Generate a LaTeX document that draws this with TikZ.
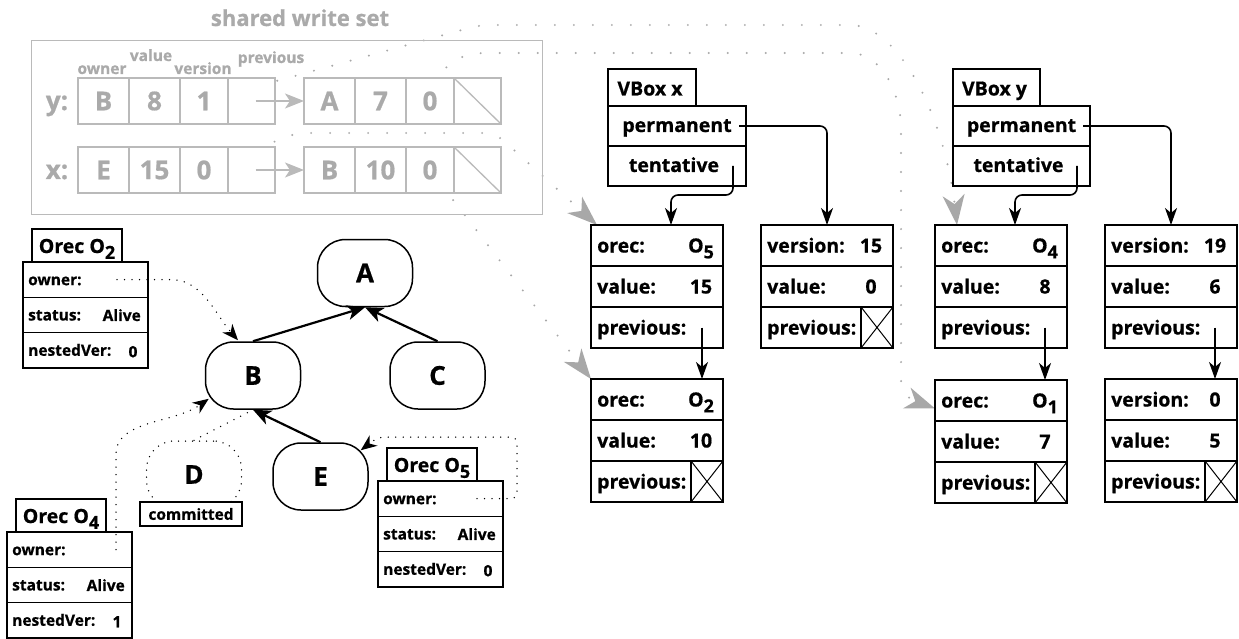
\documentclass[tikz,border=0pt]{standalone}
\usepackage{fontspec}
\setmainfont{Open Sans}[BoldFeatures={FakeBold=0.7}]
\usepackage{graphicx}
\usetikzlibrary{arrows.meta,calc}
\pgfdeclarelayer{back}
\pgfsetlayers{back,main}

\definecolor{wstext}{RGB}{170,170,170}
\definecolor{wsline}{RGB}{186,186,186}
\definecolor{wsdot}{RGB}{168,168,168}

\newcommand\fsz[1]{\fontsize{#1}{#1}\selectfont\bfseries}
\newcommand\lowsub[1]{\raisebox{-0.3em}{\scalebox{0.92}{#1}}}

\tikzset{
  % shared write set
  wscell/.style={draw=wsline, fill=white, line width=1.3pt, minimum height=46pt,
    inner sep=0pt, outer sep=0pt, text=wstext, font=\fsz{26}, anchor=north west},
  wshdr/.style={text=wstext, font=\fsz{15.5}, inner sep=0pt, anchor=base},
  wsarrow/.style={draw=wsline, line width=1.3pt, -{Stealth[length=19pt,width=15pt,inset=5pt]}},
  wsdots/.style={draw=wsdot, line width=2.2pt, line cap=round, dash pattern=on 0pt off 19pt,
    rounded corners=10pt, -{Stealth[length=30pt,width=22pt,inset=9pt]}},
  % version lists
  datarow/.style={draw, line width=1.5pt, minimum width=132pt, minimum height=41pt,
    inner sep=0pt, outer sep=0pt, anchor=north west},
  lbl/.style={font=\fsz{19.5}, inner sep=0pt, anchor=base west},
  val/.style={font=\fsz{19.5}, inner sep=0pt, anchor=base},
  nilbox/.style={draw, line width=1.5pt, minimum width=32pt, minimum height=41pt,
    inner sep=0pt, outer sep=0pt, anchor=north east},
  conn/.style={line width=1.6pt, rounded corners=7pt, -{Stealth[length=17pt,width=12pt,inset=5pt]}},
  vrow/.style={draw, line width=1.5pt, minimum height=40pt, inner sep=0pt, outer sep=0pt, anchor=north west},
  vtab/.style={draw, line width=1.5pt, minimum height=37pt, inner sep=0pt, outer sep=0pt, anchor=south west},
  vtxt/.style={font=\fsz{19.5}, inner sep=0pt, anchor=base},
  % orecs
  orow/.style={draw, line width=1.5pt, minimum width=125pt, minimum height=35.3pt,
    inner sep=0pt, outer sep=0pt, anchor=north west},
  otab/.style={draw, line width=1.5pt, minimum width=90pt, minimum height=33pt,
    inner sep=0pt, outer sep=0pt, anchor=south west},
  otxt/.style={font=\fsz{19.5}, inner sep=0pt, anchor=base},
  olbl/.style={font=\fsz{15.5}, inner sep=0pt, anchor=base west},
  oval/.style={font=\fsz{15.5}, inner sep=0pt},
  % transaction tree
  tnode/.style={draw, line width=1.5pt, rounded corners=28pt, minimum width=95pt,
    minimum height=67pt, font=\fsz{26}, inner sep=0pt},
  tarrow/.style={line width=2.2pt, -{Stealth[length=18pt,width=15pt,inset=5pt]}},
  bdots/.style={line width=1.5pt, line cap=round, dash pattern=on 0pt off 7.5pt},
  bdarrow/.style={bdots, -{Stealth[length=16pt,width=13pt,inset=5pt]}},
}

% one write-set entry: owner, value, version, previous
\newcommand\wsentry[5]{%
  \node[wscell, minimum width=51pt] (#1o) at (#2) {#3};
  \node[wscell, minimum width=51pt] (#1v) at (#1o.north east) {#4};
  \node[wscell, minimum width=48pt] (#1n) at (#1v.north east) {#5};
  \node[wscell, minimum width=47pt] (#1p) at (#1n.north east) {};
}

% a three-row version record
\newcommand\databox[7]{%
  \node[datarow] (#1a) at (#2) {};
  \node[datarow] (#1b) at (#1a.south west) {};
  \node[datarow] (#1c) at (#1b.south west) {};
  \node[lbl] (#1al) at ([shift={(6,7)}]#1a.west) {#3};
  \node[val] (#1av) at ([shift={(-22,7)}]#1a.east) {#4};
  \node[lbl] (#1bl) at ([shift={(6,7)}]#1b.west) {#5};
  \node[val] (#1bv) at ([shift={(-22,7)}]#1b.east) {#6};
  \node[lbl] (#1cl) at ([shift={(6,7)}]#1c.west) {#7};
}

% crossed cell for an empty previous pointer
\newcommand\nilcell[1]{%
  \node[nilbox] (#1x) at (#1c.north east) {};
  \draw[line width=1pt] (#1x.north west) -- (#1x.south east)
                        (#1x.north east) -- (#1x.south west);
}

% a VBox with its permanent and tentative pointers
\newcommand\vboxnode[5]{%
  \node[vrow, minimum width=#3] (#1perm) at (#2) {};
  \node[vrow, minimum width=#3] (#1tent) at (#1perm.south west) {};
  \node[vtab, minimum width=#5] (#1tab) at (#1perm.north west) {};
  \node[vtxt] (#1title) at ([shift={(-2,8)}]#1tab.center) {#4};
  \node[vtxt] (#1pl) at ([shift={(0,6)}]#1perm.center) {permanent};
  \node[vtxt] (#1tl) at ([shift={(-3,6)}]#1tent.center) {tentative};
}

% an ownership record
\newcommand\orecbox[4]{%
  \node[orow] (#1own) at (#2) {};
  \node[orow] (#1sta) at (#1own.south west) {};
  \node[orow] (#1nv) at (#1sta.south west) {};
  \node[otab] (#1tab) at ([xshift=9pt]#1own.north west) {};
  \node[otxt] (#1title) at ([shift={(0,7.5)}]#1tab.center) {Orec O\lowsub{#3}};
  \node[olbl] (#1ownl) at ([shift={(5,5.5)}]#1own.west) {owner:};
  \node[olbl] (#1stal) at ([shift={(5,5.5)}]#1sta.west) {status:};
  \node[oval, anchor=base east] (#1stav) at ([shift={(-7,6)}]#1sta.east) {Alive};
  \node[olbl] (#1nvl) at ([shift={(5,5.5)}]#1nv.west) {nestedVer:};
  \node[oval, anchor=base] (#1nvv) at ([shift={(-15,7)}]#1nv.east) {#4};
}

\begin{document}
\begin{tikzpicture}[x=1pt,y=-1pt]
\useasboundingbox (0,0) rectangle (1239,639);
\begin{pgfonlayer}{back}
  \fill[white] (0,0) rectangle (1239,639);
\end{pgfonlayer}

% ---------------- shared write set ----------------
\node[text=wstext, font=\fsz{22}, inner sep=0pt, anchor=base] (wstitle) at (300,26) {shared write set};
\node[draw=wsline, line width=1.3pt, minimum width=511pt, minimum height=174pt,
      inner sep=0pt, anchor=north west] (wsframe) at (31,40) {};

\node[wshdr] (hown) at (102,74) {owner};
\node[wshdr] (hval) at (151,61) {value};
\node[wshdr] (hver) at (203,74) {version};
\node[wshdr] (hprev) at (271,63) {previous};

\node[text=wstext, font=\fsz{26}, inner sep=0pt, anchor=base] (ylab) at (57,110) {y:};
\node[text=wstext, font=\fsz{26}, inner sep=0pt, anchor=base] (xlab) at (57,179) {x:};

\wsentry{ya}{78,78}{B}{8}{1}
\wsentry{yb}{304,78}{A}{7}{0}
\wsentry{xa}{78,147}{E}{15}{0}
\wsentry{xb}{304,147}{B}{10}{0}

\draw[draw=wsline, line width=1.3pt] (ybp.north west) -- (ybp.south east);
\draw[draw=wsline, line width=1.3pt] (xbp.north west) -- (xbp.south east);
\draw[wsarrow] ([xshift=4pt]yap.center) -- (ybo.west);
\draw[wsarrow] ([xshift=4pt]xap.center) -- (xbo.west);

% ---------------- VBoxes ----------------
\vboxnode{vx}{608,106}{138pt}{VBox x}{88pt}
\vboxnode{vy}{953,106}{137pt}{VBox y}{87pt}

% ---------------- version records ----------------
\databox{tx}{591,225}{orec:}{O\lowsub{5}}{value:}{15}{previous:}
\databox{txb}{591,379}{orec:}{O\lowsub{2}}{value:}{10}{previous:}
\nilcell{txb}
\databox{px}{761,225}{version:}{15}{value:}{0}{previous:}
\nilcell{px}

\databox{ty}{935,225}{orec:}{O\lowsub{4}}{value:}{8}{previous:}
\databox{tyb}{935,380}{orec:}{O\lowsub{1}}{value:}{7}{previous:}
\nilcell{tyb}
\databox{py}{1105,225}{version:}{19}{value:}{6}{previous:}
\databox{pyb}{1105,379}{version:}{0}{value:}{5}{previous:}
\nilcell{pyb}

\draw[conn] ([xshift=-7pt]vxperm.east) -| (pxa.north);
\draw[conn] ([xshift=-13pt]vxtent.east) -- ++(0,29) -| ([xshift=14pt]txa.north);
\draw[conn] ([xshift=-7pt]vyperm.east) -| (pya.north);
\draw[conn] ([xshift=-13pt]vytent.east) -- ++(0,29) -| ([xshift=14pt]tya.north);
\draw[conn] ([xshift=-21pt]txc.east) -- ([xshift=-21pt]txba.north east);
\draw[conn] ([xshift=-22pt]tyc.east) -- ([xshift=-22pt]tyba.north east);
\draw[conn] ([xshift=-22pt]pyc.east) -- ([xshift=-22pt]pyba.north east);

% ---------------- write set -> tentative records ----------------
\coordinate (tyIn) at ([xshift=22pt]tya.north west);
\coordinate (tybIn) at ([shift={(0,8)}]tyba.west);
\coordinate (txIn) at ([xshift=6pt]txa.north west);
\coordinate (txbIn) at (txba.north west);
\begin{pgfonlayer}{back}
  \draw[wsdots] (yan.center) -- (480,25) -- (840,25)
        .. controls (900,25) and (945,120) .. (tyIn);
  \draw[wsdots] (ybn.center) .. controls (436,70) and (455,53) .. (495,53) -- (840,53)
        .. controls (880,53) and (901,90) .. (901,140) -- (901,370)
        .. controls (901,395) and (912,400) .. (tybIn);
  \draw[wsdots] (xan.center) -- (296,133) -- (495,133) -- (txIn);
  \draw[wsdots] (xbn.center) -- (txbIn);
\end{pgfonlayer}

% ---------------- transaction tree ----------------
\node[tnode] (A) at (365,273) {A};
\node[tnode] (B) at (253,375.5) {B};
\node[tnode] (C) at (437.5,375.5) {C};
\node[tnode] (E) at (320.5,476.5) {E};
\node[tnode, line width=1.5pt, line cap=round, dash pattern=on 0pt off 7pt] (D) at (194,474.5) {D};
\node[draw, fill=white, line width=1.5pt, minimum width=102pt, minimum height=24pt,
      inner sep=0pt, font=\fsz{15.5}] (Dst) at (191,514) {committed};

\draw[tarrow] (B.north) -- (A.south);
\draw[tarrow] (C.north) -- (A.south);
\draw[tarrow] (E.north) -- (B.south);
\draw[bdots] (D.north) -- (B.south);

% ---------------- orecs ----------------
\orecbox{rtwo}{23,262}{2}{0}
\orecbox{rfour}{7,532}{4}{1}
\orecbox{rfive}{378,481}{5}{0}

\coordinate (Btwo) at ([shift={(-15,-1)}]B.north);
\coordinate (Bfour) at ([shift={(4,-11)}]B.south west);
\coordinate (Efive) at ([shift={(-8,8)}]E.north east);

\draw[bdarrow] ([xshift=-31pt]rtwoown.east) -- ++(55,0)
      .. controls +(30,0) and +(-22,-25) .. (Btwo);
\draw[bdarrow] ([xshift=-16pt]rfourown.east) -- ++(0,-95)
      .. controls +(0,-35) and +(-35,25) .. (Bfour);
\draw[bdarrow, rounded corners=6pt] ([xshift=-26pt]rfiveown.east) -- ++(40,0) -- ++(0,-61.5)
      -- ++(-139,0) -- (Efive);
\end{tikzpicture}
\end{document}
